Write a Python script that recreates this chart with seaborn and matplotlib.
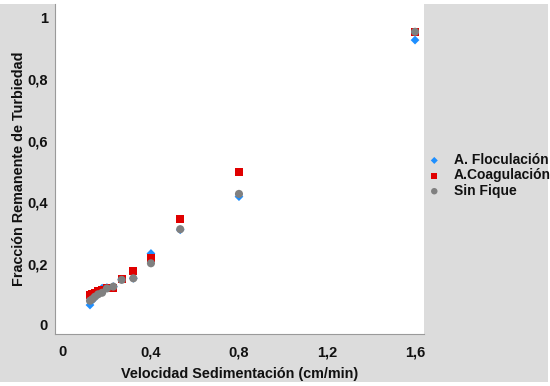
import numpy as np
import pandas as pd
import seaborn as sns
import matplotlib
matplotlib.use("Agg")
import matplotlib.pyplot as plt
from matplotlib.patches import Rectangle

# ---- data ----
velocidad = [1.6, 0.8, 0.533, 0.4, 0.32, 0.267, 0.229, 0.2, 0.178, 0.16, 0.145, 0.133, 0.123]
floculacion = [0.928, 0.418, 0.310, 0.233, 0.152, 0.149, 0.125, 0.122, 0.120, 0.100, 0.090, 0.080, 0.065]
coagulacion = [0.955, 0.497, 0.345, 0.217, 0.177, 0.150, 0.120, 0.120, 0.113, 0.112, 0.105, 0.100, 0.098]
sin_fique = [0.955, 0.427, 0.312, 0.201, 0.152, 0.147, 0.125, 0.119, 0.105, 0.100, 0.092, 0.084, 0.079]
series_names = ["A. Floculación", "A.Coagulación", "Sin Fique"]
x_ticks = [0, 0.4, 0.8, 1.2, 1.6]
x_ticklabels = ["0", "0,4", "0,8", "1,2", "1,6"]
y_ticks = [0, 0.2, 0.4, 0.6, 0.8, 1.0]
y_ticklabels = ["0", "0,2", "0,4", "0,6", "0,8", "1"]

df = pd.DataFrame({
    "x": velocidad * 3,
    "y": floculacion + coagulacion + sin_fique,
    "serie": [series_names[0]] * len(velocidad) + [series_names[1]] * len(velocidad)
             + [series_names[2]] * len(velocidad),
})

sns.set_style("white")
plt.rcParams["font.family"] = ["Liberation Sans", "DejaVu Sans"]
plt.rcParams["font.weight"] = "bold"

fig = plt.figure(figsize=(5.5, 3.86), dpi=100, facecolor="white")
fig.patches.append(Rectangle((0, 0.0104), 0.9964, 0.9792, transform=fig.transFigure,
                             facecolor="#dcdcdc", edgecolor="none", zorder=-10))
ax = fig.add_axes([0.1, 0.135, 0.671, 0.855])
ax.set_facecolor("white")

palette = {series_names[0]: "#1e8fff", series_names[1]: "#e00000", series_names[2]: "#808080"}
markers = {series_names[0]: "D", series_names[1]: "s", series_names[2]: "o"}
sizes_map = {series_names[0]: 20, series_names[1]: 32, series_names[2]: 34}

for name in series_names:
    sub = df[df["serie"] == name]
    sns.scatterplot(data=sub, x="x", y="y", color=palette[name], marker=markers[name],
                    s=sizes_map[name], edgecolor="none", label=name, ax=ax, zorder=3)

ax.set_xlim(-0.036, 1.641)
ax.set_ylim(-0.029, 1.046)
ax.set_xticks(x_ticks)
ax.set_xticklabels(x_ticklabels)
ax.set_yticks(y_ticks)
ax.set_yticklabels(y_ticklabels)
ax.set_xticks([0.3, 0.7, 1.1, 1.5], minor=True)
ax.set_yticks([0.1, 0.3, 0.5, 0.7, 0.9], minor=True)
ax.tick_params(axis="both", which="major", direction="in", length=4, width=0.8,
               color="#888888", labelsize=10.5, labelcolor="#111111")
ax.tick_params(axis="x", which="major", pad=8)
ax.tick_params(axis="y", which="major", pad=5)
ax.tick_params(axis="both", which="minor", direction="in", length=2.5, width=0.6,
               color="#aaaaaa")
for lab in ax.get_xticklabels() + ax.get_yticklabels():
    lab.set_fontweight("bold")

for side in ["top", "right"]:
    ax.spines[side].set_visible(False)
for side in ["left", "bottom"]:
    ax.spines[side].set_color("#9a9a9a")
    ax.spines[side].set_linewidth(0.8)

ax.set_xlabel("Velocidad Sedimentación (cm/min)", fontsize=10.4, fontweight="bold",
              color="#111111", labelpad=6)
ax.set_ylabel("Fracción Remanente de Turbiedad", fontsize=10.4, fontweight="bold",
              color="#111111", labelpad=1)

leg = ax.legend(loc="center left", bbox_to_anchor=(0.975, 0.48), frameon=False,
                fontsize=10, handletextpad=0.4, labelspacing=0.1, borderaxespad=0,
                markerscale=0.8)
for t in leg.get_texts():
    t.set_fontweight("bold")
    t.set_color("#111111")

fig.savefig("out.png", dpi=100, facecolor=fig.get_facecolor())
